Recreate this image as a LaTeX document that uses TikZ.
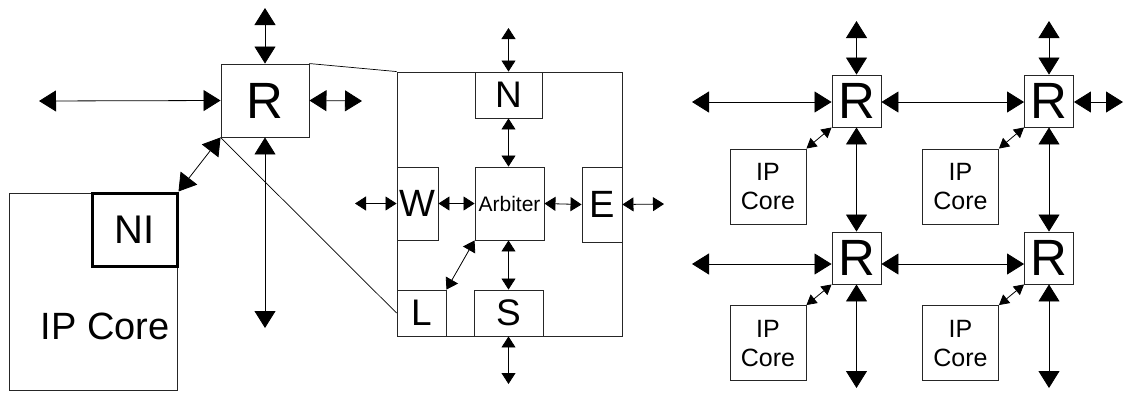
\documentclass[tikz,border=0pt]{standalone}
\usepackage{fontspec}
\setmainfont{Liberation Sans}
\usetikzlibrary{arrows.meta}
\newcommand{\fsz}[1]{\fontsize{#1}{#1}\selectfont}
\tikzset{
  box/.style={draw=black!85, line width=0.9pt, inner sep=0pt, rectangle},
  bigarr/.style={line width=0.8pt, {Triangle[length=17pt,width=21pt]}-{Triangle[length=17pt,width=21pt]}},
  midarr/.style={line width=0.8pt, {Triangle[length=11pt,width=14pt]}-{Triangle[length=11pt,width=14pt]}},
  smallarr/.style={line width=0.8pt, {Triangle[length=10pt,width=11pt]}-{Triangle[length=10pt,width=11pt]}},
  zline/.style={line width=0.7pt}
}
\begin{document}
\begin{tikzpicture}[x=1pt,y=-1pt]
\useasboundingbox (0,0) rectangle (1125,392);
% ---------- left part ----------
\node[box, minimum width=88pt, minimum height=73pt, font=\fsz{51}] (R) at (265,100.5) {R};
\node[box, minimum width=168pt, minimum height=197pt] (IPC) at (93,291.5) {};
\node[font=\fsz{38}] (IPCt) at (105,326) {IP Core};
\node[draw, line width=3pt, inner sep=0pt, minimum width=85pt, minimum height=73pt, font=\fsz{40}] (NI) at (134.5,229.5) {NI};
\coordinate (Rt) at (265,8);
\coordinate (Rl) at (39,101);
\coordinate (Rr) at (362,101);
\coordinate (Rb) at (265,328);
\draw[bigarr] (Rt) -- (R.north);
\draw[bigarr] (Rl) -- (R.west);
\draw[bigarr] (R.east) -- (Rr);
\draw[bigarr] (R.south) -- (Rb);
\draw[bigarr] (NI.north east) -- (R.south west);
% ---------- middle part ----------
\node[box, minimum width=225pt, minimum height=264pt] (O) at (509.5,204) {};
\node[box, minimum width=67pt, minimum height=46pt, font=\fsz{37}] (N) at (508.5,95) {N};
\node[box, minimum width=41pt, minimum height=73pt, font=\fsz{38}] (W) at (417.5,203.5) {W};
\node[box, minimum width=69pt, minimum height=73pt, font=\fsz{21}] (A) at (509.5,203.5) {Arbiter};
\node[box, minimum width=40pt, minimum height=75pt, font=\fsz{38}] (E) at (602,204.5) {E};
\node[box, minimum width=49pt, minimum height=46pt, font=\fsz{37}] (L) at (421.5,313) {L};
\node[box, minimum width=69pt, minimum height=46pt, font=\fsz{37}] (S) at (508.5,313) {S};
\coordinate (Nt) at (508.5,28);
\coordinate (Sb) at (508.5,384);
\coordinate (Wl) at (355,203.5);
\coordinate (Er) at (664,204);
\draw[midarr] (Nt) -- (N.north);
\draw[midarr] (S.south) -- (Sb);
\draw[midarr] (Wl) -- (W.west);
\draw[midarr] (E.east) -- (Er);
\draw[midarr] (W.east) -- (A.west);
\draw[midarr] (A.east) -- (E.west);
\draw[midarr] (N.south) -- (N.south |- A.north);
\draw[midarr] (S.north |- A.south) -- (S.north);
\draw[midarr] (L.north east) -- (A.south west);
% zoom lines
\draw[zline] (R.north east) -- (O.north west);
\draw[zline] (R.south west) -- (L.west);
% ---------- right part ----------
\foreach \n/\x/\y in {1/856.5/101, 2/1049/101, 3/856.5/258, 4/1049/258}{
  \node[box, minimum width=49pt, minimum height=52pt, font=\fsz{51}] (R\n) at (\x,\y) {R};
}
\foreach \n/\x/\y in {1/768/186.5, 2/960.5/186.5, 3/768/343, 4/960.5/343}{
  \node[box, minimum width=76pt, minimum height=75pt, align=center, font=\fsz{25}, text depth=0pt] (IP\n) at (\x,\y) {IP\\[4pt]Core};
  \draw[smallarr] (IP\n.north east) -- (R\n.south west);
}
\coordinate (T1) at (856.5,21);
\coordinate (T2) at (1049,21);
\coordinate (L1) at (692,102);
\coordinate (L3) at (692,264);
\coordinate (E2) at (1123,102);
\coordinate (B3) at (856.5,388);
\coordinate (B4) at (1049,388);
\draw[bigarr] (T1) -- (R1.north);
\draw[bigarr] (T2) -- (R2.north);
\draw[bigarr] (L1) -- (L1 -| R1.west);
\draw[bigarr] (L3) -- (L3 -| R3.west);
\draw[bigarr] (R1.east |- L1) -- (R2.west |- L1);
\draw[bigarr] (R3.east |- L3) -- (R4.west |- L3);
\draw[bigarr] (R2.east |- L1) -- (E2);
\draw[bigarr] (R1.south) -- (R3.north);
\draw[bigarr] (R2.south) -- (R4.north);
\draw[bigarr] (R3.south) -- (B3);
\draw[bigarr] (R4.south) -- (B4);
\end{tikzpicture}
\end{document}
